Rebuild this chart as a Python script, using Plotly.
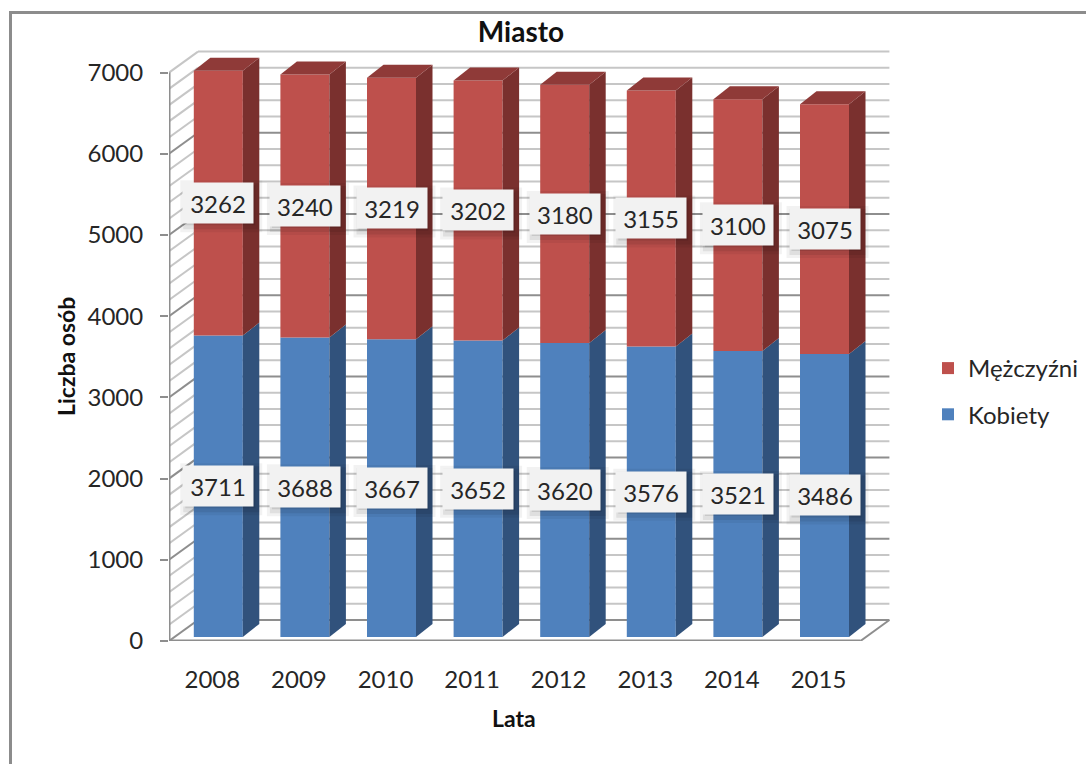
import numpy as np
import plotly.graph_objects as go

years = [2008, 2009, 2010, 2011, 2012, 2013, 2014, 2015]
women = [3711, 3688, 3667, 3652, 3620, 3576, 3521, 3486]
men = [3262, 3240, 3219, 3202, 3180, 3155, 3100, 3075]
major_ticks = [0, 1000, 2000, 3000, 4000, 5000, 6000, 7000]
minor_ticks = [v for v in range(0, 7001, 200) if v % 1000]

W, H = 1086, 764
ML, MR, MT, MB = 169, 186, 45, 123
PX_X = 86.6
PX_Y = 0.0812
X0 = 2007.5
X1 = X0 + (W - ML - MR) / PX_X
Y1 = (H - MB - MT) / PX_Y

WALL_DX = 29 / PX_X
WALL_DY = 21 / PX_Y
BAR_DX = 16.5 / PX_X
BAR_DY = 13 / PX_Y
BAR_W = 49 / PX_X
BAR_SHIFT = 6 / PX_X
BASE = 50
FLOOR_END = X0 + 8 * 0.998

BLUE, BLUE_SIDE = "#4F81BD", "#31527C"
RED, RED_SIDE, RED_TOP = "#BE504C", "#7A302E", "#8F3A38"
MAJOR, MINOR = "#8E8E8E", "#C6C6C6"
TEXT = "#262626"
DARK = "#111111"
FONT = "Lato"

women_a = np.array(women, float)
men_a = np.array(men, float)
y_a = np.array(years, float)
left = y_a + BAR_SHIFT - BAR_W / 2
right = left + BAR_W

fig = go.Figure()
fig.add_bar(x=years, y=women, base=BASE, name="Kobiety", width=BAR_W,
            offset=BAR_SHIFT - BAR_W / 2, marker=dict(color=BLUE, line_width=0),
            legendgroup="k", legendrank=2, hoverinfo="skip")
fig.add_bar(x=years, y=men, base=women_a + BASE, name="Mężczyźni", width=BAR_W,
            offset=BAR_SHIFT - BAR_W / 2, marker=dict(color=RED, line_width=0),
            legendgroup="m", legendrank=1, hoverinfo="skip")


def poly(xs, ys, color):
    fig.add_trace(go.Scatter(x=xs, y=ys, mode="lines", fill="toself", fillcolor=color,
                             line=dict(width=0, color=color), showlegend=False,
                             hoverinfo="skip"))


for i in range(len(years)):
    r, l = right[i], left[i]
    b0, b1, b2 = BASE, BASE + women_a[i], BASE + women_a[i] + men_a[i]
    poly([r, r + BAR_DX, r + BAR_DX, r, r], [b0, b0 + BAR_DY, b1 + BAR_DY, b1, b0], BLUE_SIDE)
    poly([r, r + BAR_DX, r + BAR_DX, r, r], [b1, b1 + BAR_DY, b2 + BAR_DY, b2, b1], RED_SIDE)
    poly([l, r, r + BAR_DX, l + BAR_DX, l], [b2, b2, b2 + BAR_DY, b2 + BAR_DY, b2], RED_TOP)

shapes = []


def seg(x0, y0, x1, y1, color, width=2):
    shapes.append(dict(type="line", xref="x", yref="y", x0=x0, y0=y0, x1=x1, y1=y1,
                       layer="below", line=dict(color=color, width=width)))


for v in minor_ticks + [7000]:
    seg(X0, v, X0 + WALL_DX, v + WALL_DY, MINOR)
    seg(X0 + WALL_DX, v + WALL_DY, FLOOR_END + WALL_DX, v + WALL_DY, MINOR)
for v in major_ticks[:-1]:
    seg(X0, v, X0 + WALL_DX, v + WALL_DY, MAJOR)
    seg(X0 + WALL_DX, v + WALL_DY, FLOOR_END + WALL_DX, v + WALL_DY, MAJOR)
seg(X0, 0, X0, 7000, MAJOR, 3)
seg(X0, 0, FLOOR_END, 0, MAJOR, 3)
seg(FLOOR_END, 0, FLOOR_END + WALL_DX, WALL_DY, MAJOR, 2)


def paper_x(px):
    return (px - ML) / (W - ML - MR)


def paper_y(px):
    return (H - MB - px) / (H - MB - MT)


# outer chart frame (left and top edges only are in view)
for x0, y0, x1, y1 in [(10.5, 12.5, 10.5, H), (9, 12.5, W, 12.5)]:
    shapes.append(dict(type="line", xref="paper", yref="paper",
                       x0=paper_x(x0), x1=paper_x(x1), y0=paper_y(y0), y1=paper_y(y1),
                       layer="below", line=dict(color="#8C8C8C", width=3)))

annotations = []


def label(x, y, value):
    for grow, off, alpha in [(6, 3, 0.05), (3, 3, 0.08), (0, 2, 0.10)]:
        shapes.append(dict(type="rect", xref="x", yref="y", xsizemode="pixel", ysizemode="pixel",
                           xanchor=x, yanchor=y, x0=-35 - grow + off, x1=35 + grow + off,
                           y0=-20 - grow - off, y1=20 + grow - off, layer="above",
                           line_width=0, fillcolor=f"rgba(0,0,0,{alpha})"))
    annotations.append(dict(x=x, y=y, xref="x", yref="y", text=str(value), showarrow=False,
                            width=70, height=40, bgcolor="#F2F2F2", borderpad=0,
                            font=dict(family=FONT, size=24, color=TEXT)))


for i in range(len(years)):
    c = years[i] + BAR_SHIFT
    label(c, BASE + women_a[i] / 2, women[i])
for i in range(len(years)):
    c = years[i] + BAR_SHIFT
    label(c, BASE + women_a[i] + men_a[i] / 2, men[i])

annotations.append(dict(x=paper_x(514), y=paper_y(718), text="<b>Lata</b>", showarrow=False,
                        xanchor="center", yanchor="middle", xref="paper", yref="paper",
                        font=dict(family=FONT, size=23, color=DARK)))
annotations.append(dict(x=paper_x(66), y=paper_y(356), text="<b>Liczba osób</b>", showarrow=False,
                        textangle=-90, xanchor="center", yanchor="middle", xref="paper",
                        yref="paper", font=dict(family=FONT, size=23, color=DARK)))

fig.update_layout(
    width=W, height=H, margin=dict(l=ML, r=MR, t=MT, b=MB), autosize=False,
    barmode="overlay", paper_bgcolor="white", plot_bgcolor="rgba(0,0,0,0)",
    font=dict(family=FONT, size=24, color=TEXT),
    title=dict(text="<b>Miasto</b>", x=521 / W, xanchor="center", y=1 - 32 / H, yanchor="middle",
               font=dict(family=FONT, size=28, color=DARK)),
    xaxis=dict(range=[X0, X1], tickmode="array", tickvals=years, ticktext=[str(v) for v in years],
               showgrid=False, zeroline=False, showline=False, ticks="outside", ticklen=17,
               tickcolor="rgba(0,0,0,0)"),
    yaxis=dict(range=[0, Y1], tickmode="array", tickvals=major_ticks, showgrid=False, zeroline=False,
               showline=False, ticks="outside", ticklen=8, tickwidth=2, tickcolor=MAJOR,
               ticklabelstandoff=12),
    legend=dict(x=928 / W, xanchor="left", xref="container", y=1 - 346 / H, yanchor="top",
                yref="container", traceorder="grouped", tracegroupgap=12,
                bgcolor="rgba(0,0,0,0)",
                font=dict(family=FONT, size=24, color=TEXT), itemclick=False, itemdoubleclick=False),
    shapes=shapes, annotations=annotations,
)
fig.write_html("out.html", config=dict(displayModeBar=False),
               post_script="document.body.style.margin='0';")
